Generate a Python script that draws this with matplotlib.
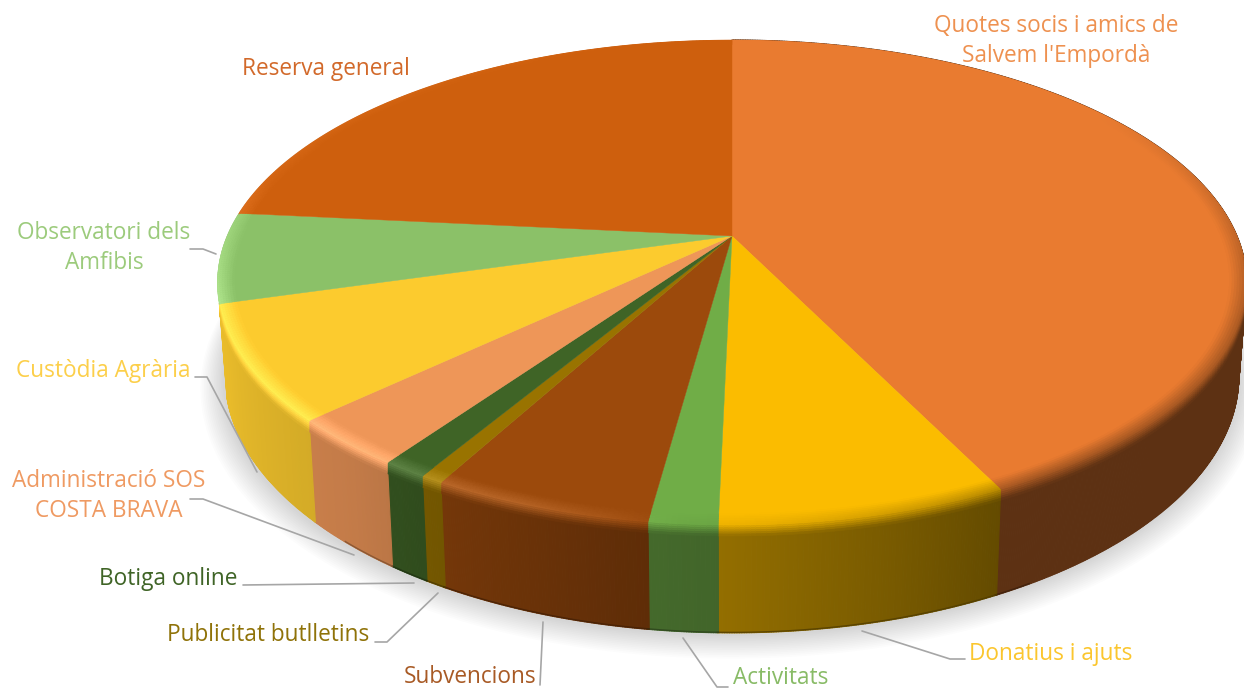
import numpy as np
import matplotlib
matplotlib.use("Agg")
import matplotlib.pyplot as plt
from matplotlib.collections import PolyCollection
from matplotlib.colors import to_rgb

# sense titol, percentatges llegits de la imatge
labels = ["Quotes socis i amics de\nSalvem l'Empordà", "Donatius i ajuts", "Activitats", "Subvencions",
          "Publicitat butlletins", "Botiga online", "Administració SOS\nCOSTA BRAVA", "Custòdia Agrària",
          "Observatori dels\nAmfibis", "Reserva general"]
values = [42.7, 7.6, 1.8, 5.8, 0.6, 1.2, 3.2, 7.6, 6.0, 23.4]
colors = ["#E97B30", "#FBBC00", "#70AD47", "#9C4A0C", "#997300", "#3F6426", "#EE9658", "#FCCB2E", "#8BC168", "#CE5F0D"]
text_colors = ["#EE9150", "#FBC62E", "#88BB66", "#A85A25", "#8F7208", "#3F6426", "#EF9A62", "#FCCF4A", "#9CCB7C", "#D2692A"]

label_pos = [(1056, 41), (1051, 654), (781, 678), (470, 677), (268, 635), (168, 579), (109, 496), (103, 371), (104, 248), (326, 69)]
leaders = [[(965, 659), (950, 659), (862, 631)],
           [(728, 687), (717, 687), (683, 638)],
           [(540, 685), (543, 622)],
           [(375, 642), (387, 642), (438, 593)],
           [(243, 585), (414, 583)],
           [(190, 499), (203, 499), (354, 555)],
           [(195, 377), (207, 377), (257, 472)],
           [(190, 249), (203, 249), (216, 254)]]

# perspectiva del cercle
CX, CY = 732, 236
R, S, K = 505, 233.6, 0.1917
DEPTH, SHRINK = 90.7, 0.985


def top(th, r=1.0):
    u, v = r * np.sin(th), -r * np.cos(th)
    w = 1 - K * v
    return CX + R * u / w, CY + S * v / w


def bottom(th, r=1.0):
    x, y = top(th, r)
    w = 1 + K * r * np.cos(th)
    return CX + (x - CX) * SHRINK, CY + (y - CY) * SHRINK + DEPTH / w


def side_factor(th):
    return np.interp(np.degrees(th), [0, 154, 165, 180, 190, 205, 220, 250, 280, 360],
                     [0.40, 0.40, 0.48, 0.58, 0.62, 0.72, 0.82, 0.92, 0.95, 0.95])


def light_amount(th):
    return np.interp(np.degrees(th), [0, 185, 200, 225, 255, 285, 360], [0, 0, 0.2, 0.28, 0.28, 0.06, 0])


def dark_amount(th):
    return np.interp(np.degrees(th), [0, 55, 110, 150, 190, 360], [0, 0, 0.45, 0.5, 0, 0])


fig = plt.figure(figsize=(12.44, 6.89), dpi=100)
ax = fig.add_axes([0, 0, 1, 1])
ax.set_xlim(0, 1244)
ax.set_ylim(689, 0)
ax.axis("off")

# ombra suau sota el pastis
full = np.linspace(0, 2 * np.pi, 361)
for i in range(14):
    xs, ys = bottom(full, 1.0 + 0.0032 * (14 - i))
    ax.fill(xs - 1, ys + 1.5 + 0.5 * (14 - i), color="#808080", alpha=0.022, lw=0, zorder=1)

cuts = np.radians(np.concatenate([[0], np.cumsum(values) / np.sum(values) * 360]))

# laterals (els de darrere no es veuen)
for a, b, c in zip(cuts[:-1], cuts[1:], colors):
    if np.degrees(a) > 250:
        continue
    th = np.arange(a, b + 0.004, 0.004)
    if th[-1] < b:
        th = np.append(th, b)
    base = np.array(to_rgb(c))
    polys, cols = [], []
    for t0, t1 in zip(th[:-1], th[1:]):
        x0, y0 = top(t0)
        x1, y1 = top(t1)
        x2, y2 = bottom(t1)
        x3, y3 = bottom(t0)
        polys.append([(x0, y0), (x1, y1), (x2, y2), (x3, y3)])
        cols.append(base * side_factor(t0))
    ax.add_collection(PolyCollection(polys, facecolors=cols, edgecolors=cols, linewidths=0.8, zorder=2))
    # fil fosc a sota, nomes al davant
    fr = th[(th > np.radians(150)) & (th < np.radians(222))]
    if len(fr) > 1:
        xb, yb = bottom(fr)
        ax.plot(xb, yb - 0.5, color=base * side_factor((a + b) / 2) * 0.65, lw=1.0, alpha=0.8, zorder=2.5)

# cara de dalt
for a, b, c in zip(cuts[:-1], cuts[1:], colors):
    th = np.linspace(a, b, max(int((b - a) * 120), 3))
    xs, ys = top(th, 1.0)
    ax.fill(np.r_[CX, xs], np.r_[CY, ys], color=c, lw=0.3, zorder=3)

# bisell de la vora
STEPS = 12


def band_pt(th_, s):
    if s < 0.55:
        return top(th_, 0.968 + 0.032 * s / 0.55)
    x, y = top(th_)
    return x, y + 11 * (s - 0.55) / 0.45


for a, b, c in zip(cuts[:-1], cuts[1:], colors):
    base = np.array(to_rgb(c))
    th = np.linspace(a, b, max(int((b - a) * 120), 3))
    polys, cols = [], []
    for t0, t1 in zip(th[:-1], th[1:]):
        mid = (t0 + t1) / 2
        deg = np.degrees(mid)
        side = base * side_factor(mid)
        d = dark_amount(mid)
        li = light_amount(mid)
        peak = (base * (1 - d) + side * d) * (1 + li * 0.5) + (1 - base) * li * 0.5
        for k in range(STEPS):
            s0, s1 = k / STEPS, (k + 1) / STEPS
            sm = (s0 + s1) / 2
            if sm >= 0.55 and (deg < 95 or deg > np.degrees(cuts[-3])):
                continue
            if sm < 0.55:
                col = base + (peak - base) * (sm / 0.55)
            else:
                col = peak + (side - peak) * ((sm - 0.55) / 0.45)
            polys.append([band_pt(t0, s0), band_pt(t1, s0), band_pt(t1, s1), band_pt(t0, s1)])
            cols.append(np.clip(col, 0, 1))
    ax.add_collection(PolyCollection(polys, facecolors=cols, edgecolors=cols, linewidths=0.4, zorder=4))

for line in leaders:
    ax.plot(*zip(*line), color="#A6A6A6", lw=1.2, zorder=5, solid_capstyle="round")

for lab, (x, y), tc in zip(labels, label_pos, text_colors):
    ax.text(x, y, lab, ha="center", va="center", color=tc, fontsize=16.3, family="Open Sans", linespacing=1.3, zorder=6)

fig.savefig("out.png", dpi=100)
